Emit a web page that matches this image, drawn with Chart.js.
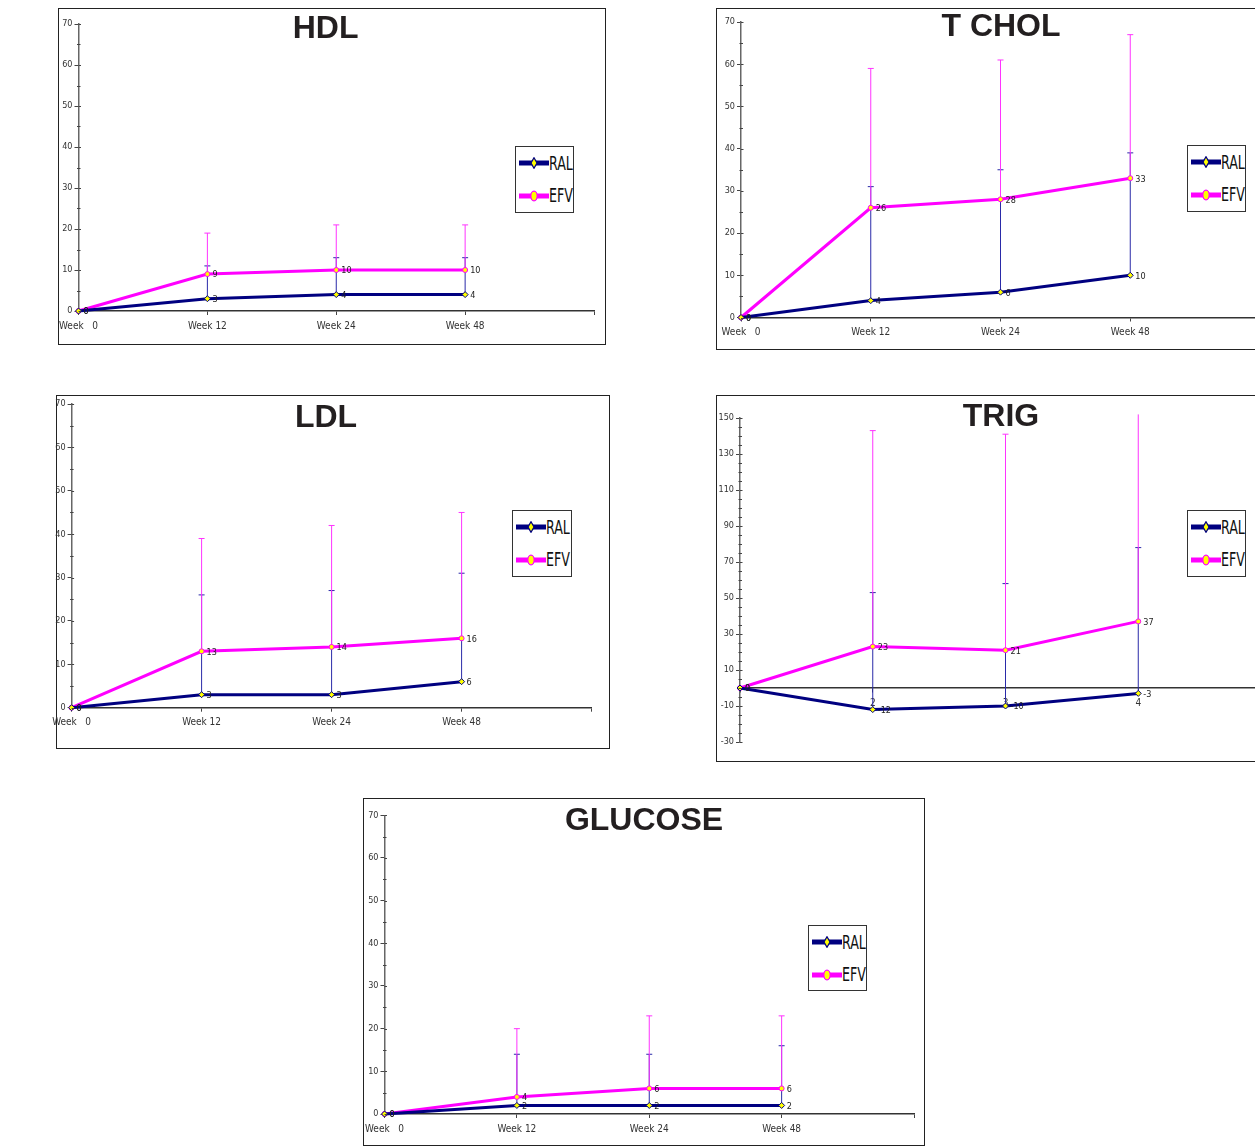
<!DOCTYPE html>
<html><head><meta charset="utf-8">
<script src="https://cdn.jsdelivr.net/npm/chart.js@4.4.0/dist/chart.umd.min.js"></script>
<style>
html,body{margin:0;padding:0;background:#fff;width:1255px;height:1147px;overflow:hidden;position:relative;font-family:'Liberation Sans',Arial,sans-serif}
.frame{position:absolute;border:1.5px solid #222;box-sizing:border-box}
canvas{position:absolute}
.title{position:absolute;font-weight:bold;font-size:32px;line-height:32px;color:#231f20;white-space:nowrap;transform:translateX(-50%);font-family:'Liberation Sans',Arial,sans-serif}
.legend{position:absolute;border:1.5px solid #333;box-sizing:border-box;background:#fff}
.legend svg{position:absolute;left:3px}
.legend span{position:absolute;left:33px;font-family:'Liberation Sans Narrow','Arial Narrow','DejaVu Sans Condensed',sans-serif;font-size:19px;line-height:19px;color:#111;transform:scaleX(0.74);transform-origin:left center;white-space:nowrap}
</style>
</head><body>
<script>
// ---- data ----
const weekLabels = ['Week   0', 'Week 12', 'Week 24', 'Week 48', ''];
const trigLabels = ['', '2', '3', '4', ''];
const seriesNames = ['RAL', 'EFV'];

const hdlRal = [0, 3, 4, 4];
const hdlRalUpper = [null, 11, 13, 13];
const hdlEfv = [0, 9, 10, 10];
const hdlEfvUpper = [null, 19, 21, 21];

const tcholRal = [0, 4, 6, 10];
const tcholRalUpper = [null, 31, 35, 39];
const tcholEfv = [0, 26, 28, 33];
const tcholEfvUpper = [null, 59, 61, 67];

const ldlRal = [0, 3, 3, 6];
const ldlRalUpper = [null, 26, 27, 31];
const ldlEfv = [0, 13, 14, 16];
const ldlEfvUpper = [null, 39, 42, 45];

const trigRal = [0, -12, -10, -3];
const trigRalUpper = [null, 53, 58, 78];
const trigEfv = [0, 23, 21, 37];
const trigEfvUpper = [null, 143, 141, 152];

const gluRal = [0, 2, 2, 2];
const gluRalUpper = [null, 14, 14, 16];
const gluEfv = [0, 4, 6, 6];
const gluEfvUpper = [null, 20, 23, 23];

// ---- styling / layout ----
const NAVY = '#000080', MAG = '#ff00ff', YEL = '#ffff00';
const NARROW = "'Liberation Sans Narrow','Arial Narrow','DejaVu Sans Condensed',sans-serif";

const charts = [
  {title:'HDL', labels:weekLabels, ral:hdlRal, ralUp:hdlRalUpper, efv:hdlEfv, efvUp:hdlEfvUpper,
   box:[58,8,548,337], area:[78.5,24,594,311], min:0, max:70, step:10, minor:5,
   tx:325.6, tb:37.6, legend:[515,146,59,67]},
  {title:'T CHOL', labels:weekLabels, ral:tcholRal, ralUp:tcholRalUpper, efv:tcholEfv, efvUp:tcholEfvUpper,
   box:[716,8,560,342], area:[741,22,1260,317.5], min:0, max:70, step:10, minor:5,
   tx:1001, tb:35.5, legend:[1187,145,59,67]},
  {title:'LDL', labels:weekLabels, ral:ldlRal, ralUp:ldlRalUpper, efv:ldlEfv, efvUp:ldlEfvUpper,
   box:[56,395,554,354], area:[71.6,404,591.6,707.7], min:0, max:70, step:10, minor:5,
   tx:326, tb:426.7, legend:[512,510,60,67]},
  {title:'TRIG', labels:trigLabels, ral:trigRal, ralUp:trigRalUpper, efv:trigEfv, efvUp:trigEfvUpper,
   box:[716,395,560,367], area:[740,418,1272,742], min:-30, max:150, step:20, minor:5, xAtZero:true,
   tx:1001, tb:426, legend:[1187,510,59,67]},
  {title:'GLUCOSE', labels:weekLabels, ral:gluRal, ralUp:gluRalUpper, efv:gluEfv, efvUp:gluEfvUpper,
   box:[363,798,562,348], area:[384.5,815.3,914,1114], min:0, max:70, step:10, minor:5,
   tx:644, tb:830, legend:[808,925,59,66]}
];

const errorBars = {
  id:'errorBars',
  beforeDatasetsDraw(chart){
    const ctx = chart.ctx, ys = chart.scales.y;
    chart.data.datasets.forEach((ds, di) => {
      const meta = chart.getDatasetMeta(di);
      ctx.save();
      ctx.strokeStyle = ds.errColor; ctx.lineWidth = 1;
      ds.upper.forEach((u, i) => {
        if (u === null || u === undefined) return;
        const p = meta.data[i];
        const yu = ys.getPixelForValue(u);
        ctx.beginPath();
        ctx.moveTo(p.x, p.y); ctx.lineTo(p.x, yu);
        if (u <= ys.max) { ctx.moveTo(p.x - 3, yu); ctx.lineTo(p.x + 3, yu); }
        ctx.stroke();
      });
      ctx.restore();
    });
  }
};

const valueLabels = {
  id:'valueLabels',
  afterDatasetsDraw(chart){
    const ctx = chart.ctx;
    ctx.save();
    ctx.font = "9px " + NARROW;
    ctx.fillStyle = '#222';
    ctx.textAlign = 'left'; ctx.textBaseline = 'middle';
    chart.data.datasets.forEach((ds, di) => {
      const meta = chart.getDatasetMeta(di);
      ds.data.forEach((v, i) => {
        const p = meta.data[i];
        ctx.fillText(String(v), p.x + 5, p.y + 1);
      });
    });
    ctx.restore();
  }
};

const minorTicks = {
  id:'minorTicks',
  afterDraw(chart){
    const ctx = chart.ctx, ys = chart.scales.y, o = chart.options.plugins.minorTicks;
    const x = ys.right;
    ctx.save();
    ctx.strokeStyle = '#444'; ctx.lineWidth = 1;
    for (let v = ys.min; v <= ys.max + 1e-9; v += o.minor) {
      const py = Math.round(ys.getPixelForValue(v)) + 0.5;
      const major = ((v - ys.min) % o.step) === 0;
      ctx.beginPath();
      if (major) { ctx.moveTo(x, py); ctx.lineTo(x + 2.5, py); }
      else { ctx.moveTo(x - 1.5, py); ctx.lineTo(x + 2, py); }
      ctx.stroke();
    }
    ctx.restore();
  }
};

const XH = 21, PADL = 14;

charts.forEach(c => {
  const [bx, by, bw, bh] = c.box;
  const [al, at, ar, ab] = c.area;
  const fr = document.createElement('div');
  fr.className = 'frame';
  fr.style.cssText = `left:${bx}px;top:${by}px;width:${bw}px;height:${bh}px`;
  document.body.appendChild(fr);

  const cx = bx - PADL, cw = bw + PADL;
  const cv = document.createElement('canvas');
  cv.width = cw; cv.height = bh;
  cv.style.cssText = `left:${cx}px;top:${by}px;width:${cw}px;height:${bh}px`;
  document.body.appendChild(cv);

  const L = al - cx, T = at - by, R = ar - cx, B = ab - by;
  new Chart(cv, {
    type:'line',
    data:{labels:c.labels, datasets:[
      {label:seriesNames[0], data:c.ral, upper:c.ralUp, errColor:'#2a2aa8',
       borderColor:NAVY, backgroundColor:NAVY, borderWidth:3, tension:0, clip:false,
       pointStyle:'rectRot', pointRadius:3, pointBackgroundColor:YEL, pointBorderColor:NAVY, pointBorderWidth:1},
      {label:seriesNames[1], data:c.efv, upper:c.efvUp, errColor:'#ff33ff',
       borderColor:MAG, backgroundColor:MAG, borderWidth:3, tension:0, clip:false,
       pointStyle:'circle', pointRadius:2.5, pointBackgroundColor:YEL, pointBorderColor:MAG, pointBorderWidth:1}
    ]},
    options:{
      responsive:false, animation:false, devicePixelRatio:1,
      layout:{padding:{left:0, top:T, right:cw - R, bottom:c.xAtZero ? bh - B : bh - B - XH}},
      plugins:{legend:{display:false}, title:{display:false}, tooltip:{enabled:false},
        minorTicks:{minor:c.minor, step:c.step}},
      scales:{
        x:{type:'category', offset:false, position: c.xAtZero ? {y:0} : 'bottom',
           grid:{display:true, drawOnChartArea:false, drawTicks:true, tickLength:4, tickColor:'#444'},
           border:{display:true, color:'#333', width:1.5},
           ticks:{autoSkip:false, maxRotation:0, minRotation:0, padding:5, color:'#333', font:{family:NARROW, size:10}},
           afterFit:s => { s.height = c.xAtZero ? 0 : XH; s.paddingLeft = 0; s.paddingRight = 0; }},
        y:{min:c.min, max:c.max,
           ticks:{stepSize:c.step, padding:2, color:'#333', font:{family:NARROW, size:9}},
           grid:{display:true, drawOnChartArea:false, drawTicks:true, tickLength:4, tickColor:'#444'},
           border:{display:true, color:'#666', width:1.5},
           afterFit:s => { s.width = L; s.paddingTop = 0; s.paddingBottom = 0; }}
      }
    },
    plugins:[errorBars, valueLabels, minorTicks]
  });

  const t = document.createElement('div');
  t.className = 'title';
  t.textContent = c.title;
  t.style.left = c.tx + 'px';
  t.style.top = (c.tb - 27) + 'px';
  document.body.appendChild(t);

  const [lx, ly, lw, lh] = c.legend;
  const lg = document.createElement('div');
  lg.className = 'legend';
  lg.style.cssText = `left:${lx}px;top:${ly}px;width:${lw}px;height:${lh}px`;
  const rows = [
    {name:seriesNames[0], cy:17.5, svg:`<svg width="30" height="12" viewBox="0 0 30 12"><line x1="0" y1="6" x2="30" y2="6" stroke="${NAVY}" stroke-width="5"/><polygon points="15,0.8 18,6 15,11.2 12,6" fill="${YEL}" stroke="${NAVY}" stroke-width="1.3"/></svg>`},
    {name:seriesNames[1], cy:50, svg:`<svg width="30" height="12" viewBox="0 0 30 12"><line x1="0" y1="6" x2="30" y2="6" stroke="${MAG}" stroke-width="5"/><ellipse cx="15" cy="6" rx="3.2" ry="4.8" fill="${YEL}" stroke="${MAG}" stroke-width="1.3"/></svg>`}
  ];
  rows.forEach(r => {
    const wrap = document.createElement('div');
    wrap.innerHTML = r.svg;
    const svg = wrap.firstChild;
    svg.style.top = (r.cy - 1.5 - 6) + 'px';
    lg.appendChild(svg);
    const sp = document.createElement('span');
    sp.textContent = r.name;
    sp.style.top = (r.cy - 1.5 - 9.5) + 'px';
    lg.appendChild(sp);
  });
  document.body.appendChild(lg);
});
</script>
</body></html>
